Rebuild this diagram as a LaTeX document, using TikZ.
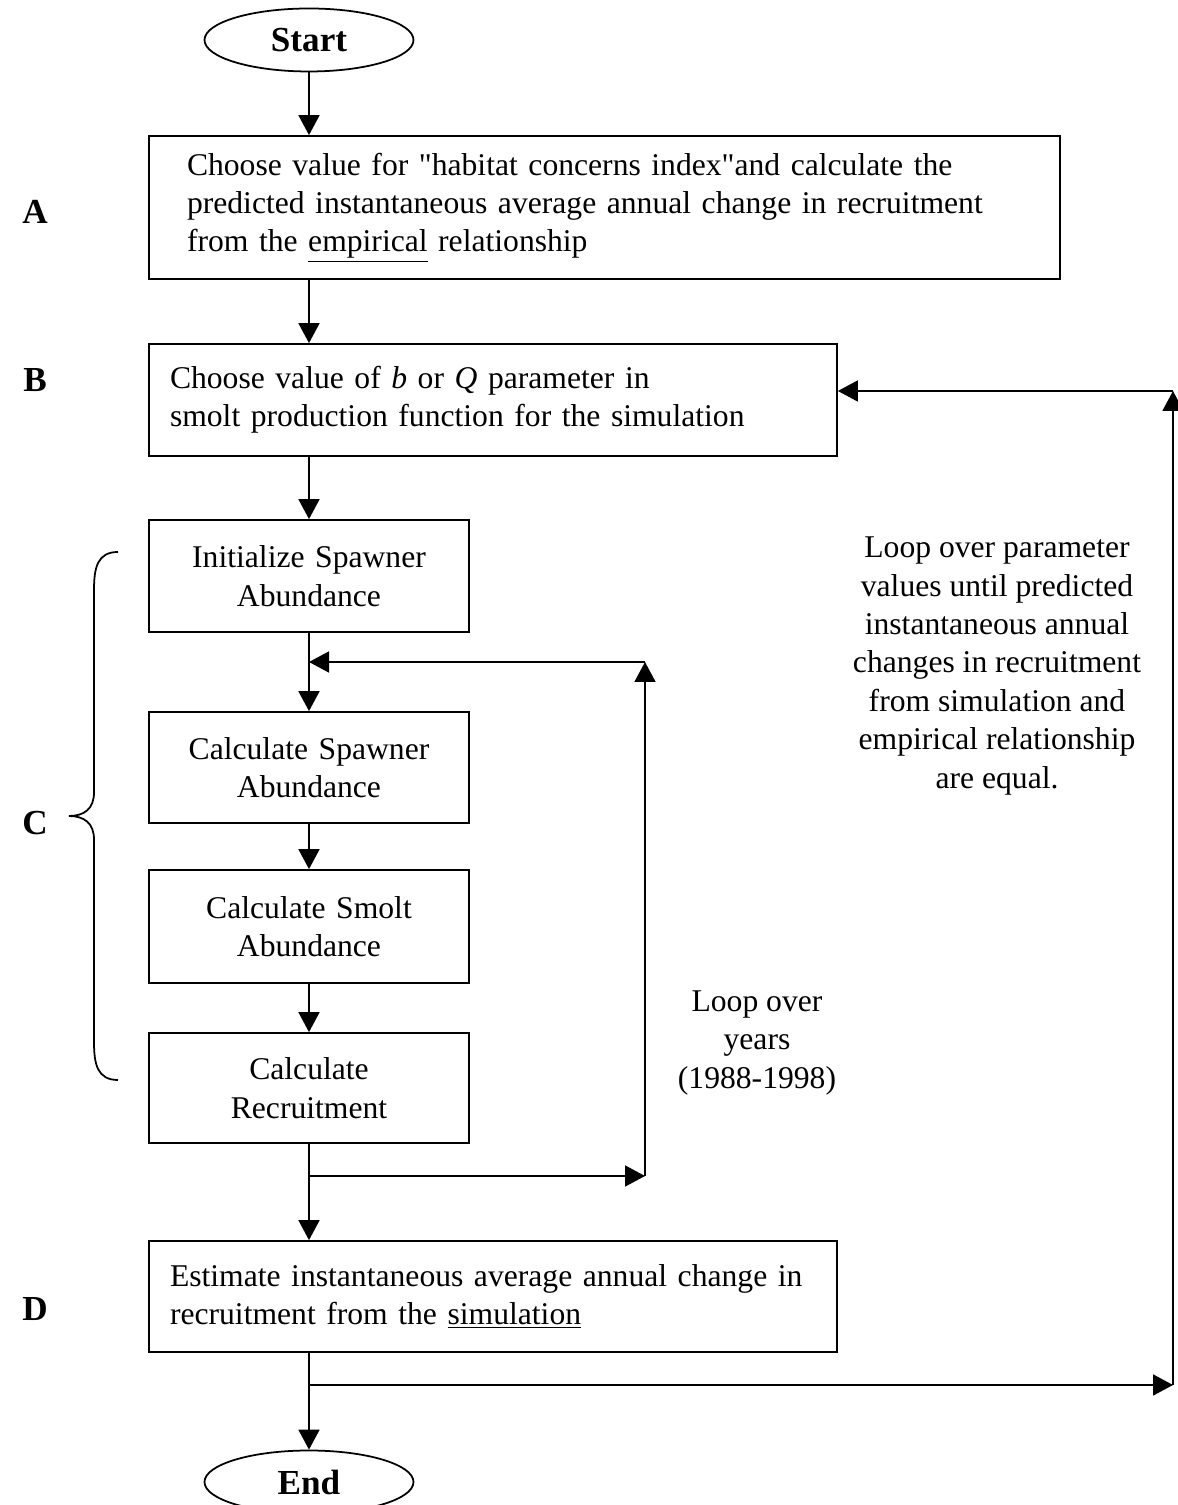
\documentclass[tikz,border=0pt]{standalone}
\usepackage{fontspec}
\setmainfont{Liberation Serif}
\usetikzlibrary{arrows.meta,shapes.geometric}

\begin{document}
\begin{tikzpicture}[x=1cm,y=1cm,font=\fontsize{18}{21.9}\selectfont,line width=1pt,
box/.style={draw,inner ysep=0pt,minimum height=2.24cm},
wide/.style={box,align=left,inner xsep=.42cm,text width=12.92cm},
small/.style={box,align=center,inner xsep=.2cm,text width=6cm},
term/.style={draw,ellipse,minimum width=4.18cm,minimum height=1.26cm,inner sep=0pt,font=\fontsize{20}{24}\selectfont\bfseries},
lbl/.style={font=\fontsize{20}{24}\selectfont\bfseries},
arr/.style={-{Triangle[length=.4cm,width=.42cm]}}]

\useasboundingbox(0,0)rectangle(23.56,30.10);
\node[term](start)at(6.18,29.30){Start};
\node[box,align=left,inner xsep=.76cm,text width=16.70cm,minimum height=2.86cm](hci)at(12.09,25.95){Choose value for \textquotedbl habitat concerns index\textquotedbl and calculate the\\predicted instantaneous average annual change in recruitment\\from the \underline{empirical} relationship};
\node[wide](par)at(9.86,22.10){Choose value of \textit{b} or \textit{Q} parameter in\\smolt production function for the simulation};
\node[small](init)at(6.18,18.58){Initialize Spawner\\Abundance};
\node[small,minimum height=2.22cm](spw)at(6.18,14.75){Calculate Spawner\\Abundance};
\node[small,minimum height=2.26cm](smo)at(6.18,11.57){Calculate Smolt\\Abundance};
\node[small,minimum height=2.2cm](rec)at(6.18,8.34){Calculate\\Recruitment};
\node[wide,minimum height=2.22cm](est)at(9.86,4.17){Estimate instantaneous average annual change in\\recruitment from the \underline{simulation}};
\node[term](fin)at(6.18,0.46){End};

% stage letters and the brace over the year loop
\node[lbl](la)at(0.70,25.86){A};
\node[lbl](lb)at(0.70,22.50){B};
\node[lbl](lc)at(0.70,13.64){C};
\node[lbl](ld)at(0.70,3.92){D};
\draw(2.36,19.06)..controls(1.95,19.06)and(1.88,18.75)..(1.88,18.30)--(1.88,14.25)..controls(1.88,13.92)and(1.68,13.78)..(1.38,13.78)..controls(1.68,13.78)and(1.88,13.64)..(1.88,13.31)--(1.88,9.26)..controls(1.88,8.81)and(1.95,8.50)..(2.36,8.50);

\node[align=center](lpar)at(19.94,16.78){Loop over parameter\\values until predicted\\instantaneous annual\\changes in recruitment\\from simulation and\\empirical relationship\\are equal.};
\node[align=center](lyr)at(15.14,9.24){Loop over\\years\\(1988-1998)};

\draw[arr](start)--(hci.north-|start);
\draw[arr](hci.south-|start)--(par.north-|start);
\draw[arr](par.south-|init)--(init.north);
\draw[arr](init)--(spw);
\draw[arr](spw)--(smo);
\draw[arr](smo)--(rec);
\draw[arr](rec)--(est.north-|rec);
\draw[arr](est.south-|fin)--(fin);

% inner loop over years
\coordinate(ytop)at(12.90,16.86);
\coordinate(ybot)at(12.90,6.58);
\draw[arr](rec.south|-ybot)--(ybot);
\draw[arr](ybot)--(ytop);
\draw[arr](ytop)--(init.south|-ytop);

% outer loop over parameter values
\coordinate(ptop)at(23.46,22.28);
\coordinate(pbot)at(23.46,2.40);
\draw[arr](fin|-pbot)--(pbot);
\draw[arr](pbot)--(ptop);
\draw[arr](ptop)--(par.east|-ptop);
\end{tikzpicture}
\end{document}
